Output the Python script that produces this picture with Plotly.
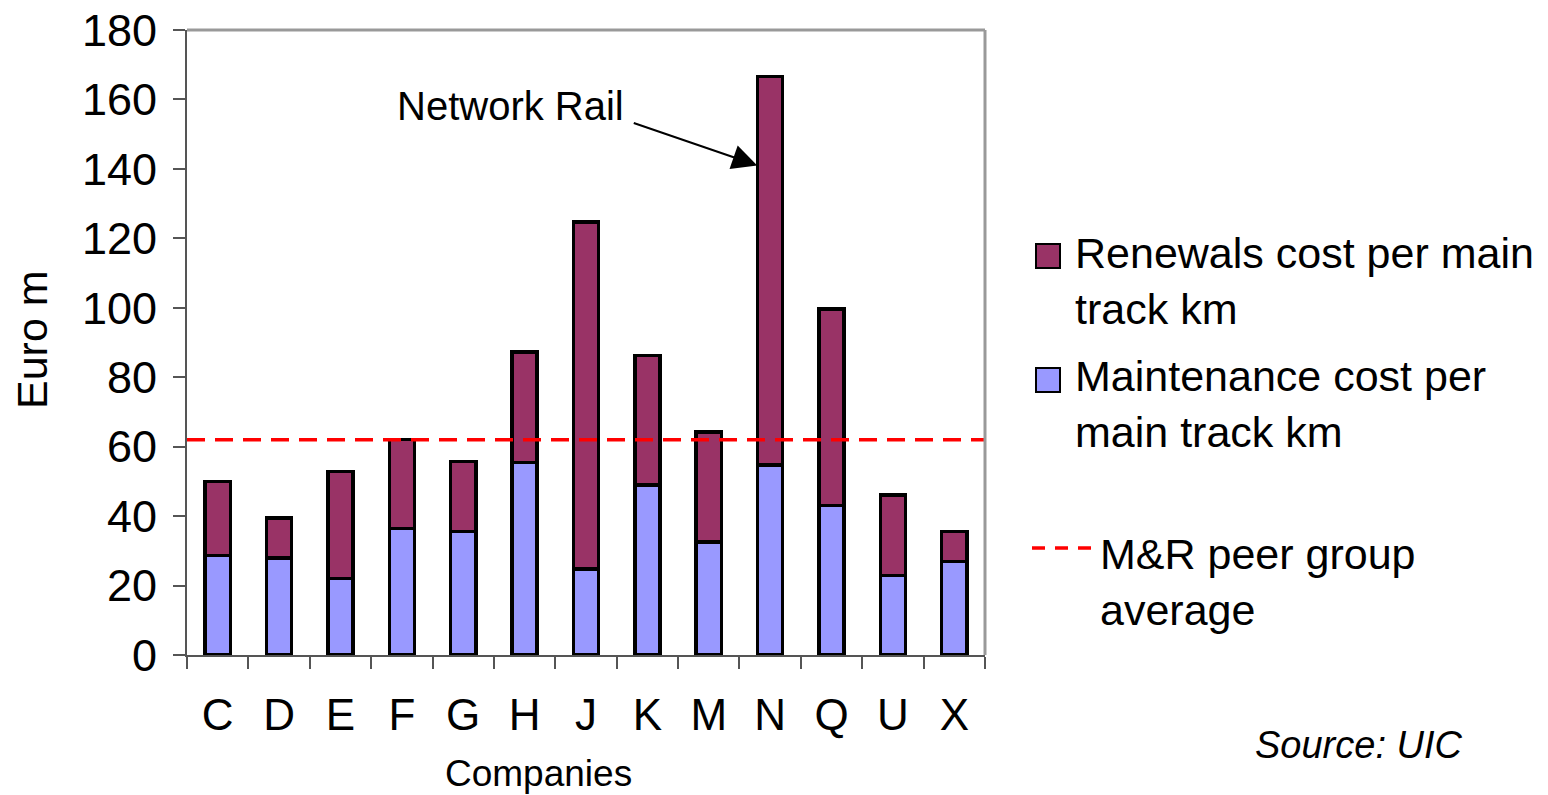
import plotly.graph_objects as go

companies = ["C", "D", "E", "F", "G", "H", "J", "K", "M", "N", "Q", "U", "X"]
maintenance = [28.7, 27.9, 22.0, 36.4, 35.5, 55.5, 24.8, 49.0, 32.6, 54.7, 43.1, 22.9, 26.9]
total = [49.9, 39.4, 52.8, 62.1, 55.7, 87.2, 124.7, 86.2, 64.2, 166.6, 99.7, 46.1, 35.5]
renewals = [round(t - m, 1) for t, m in zip(total, maintenance)]
peer_average = 62.0

FONT = "Arial, Liberation Sans, sans-serif"
REN_COLOR = "#993366"
MAINT_COLOR = "#9999FF"

fig = go.Figure()
fig.add_trace(go.Bar(x=companies, y=maintenance, name="Maintenance cost per main track km",
                     marker=dict(color=MAINT_COLOR, line=dict(color="black", width=3.5))))
fig.add_trace(go.Bar(x=companies, y=renewals, name="Renewals cost per main track km",
                     marker=dict(color=REN_COLOR, line=dict(color="black", width=3.5))))

W, H = 1548, 795
L, R, T, B = 187, 985, 30, 655  # plot area in page pixels


def px(x):
    return (x - L) / (R - L)


def py(y):
    return (B - y) / (B - T)


annotations = [
    dict(xref="paper", yref="paper", x=px(1073), y=py(281), xanchor="left", yanchor="middle",
         align="left", showarrow=False, text="Renewals cost per main<br>track km",
         font=dict(size=43, family=FONT, color="black")),
    dict(xref="paper", yref="paper", x=px(1073), y=py(404), xanchor="left", yanchor="middle",
         align="left", showarrow=False, text="Maintenance cost per<br>main track km",
         font=dict(size=43, family=FONT, color="black")),
    dict(xref="paper", yref="paper", x=px(1098), y=py(582), xanchor="left", yanchor="middle",
         align="left", showarrow=False, text="M&R peer group<br>average",
         font=dict(size=43, family=FONT, color="black")),
    dict(xref="paper", yref="paper", x=px(1465), y=py(745), xanchor="right", yanchor="middle",
         showarrow=False, text="<i>Source: UIC</i>",
         font=dict(size=38, family=FONT, color="black")),
    dict(xref="paper", yref="paper", x=px(538), y=py(774), xanchor="center", yanchor="middle",
         showarrow=False, text="Companies", font=dict(size=37, family=FONT, color="black")),
    dict(xref="paper", yref="paper", x=px(32), y=py(340), xanchor="center", yanchor="middle",
         showarrow=False, text="Euro m", textangle=-90, font=dict(size=43, family=FONT, color="black")),
    dict(xref="paper", yref="paper", x=px(510), y=py(106), xanchor="center", yanchor="middle",
         showarrow=False, text="Network Rail", font=dict(size=40, family=FONT, color="black")),
    dict(xref="x", yref="y", x=8.79, y=141, ax=-125, ay=-43, text="", showarrow=True,
         arrowhead=2, arrowsize=2.5, arrowwidth=2, arrowcolor="black"),
]

fig.update_layout(
    width=W, height=H,
    margin=dict(l=L, r=W - R, t=T, b=H - B, pad=0),
    barmode="stack", bargap=0.59,
    paper_bgcolor="white", plot_bgcolor="white",
    showlegend=False,
    font=dict(family=FONT, color="black"),
    annotations=annotations,
)
fig.update_xaxes(type="category", range=[-0.5, len(companies) - 0.5], automargin=False,
                 showline=True, linecolor="#555555", linewidth=2, mirror=False,
                 ticks="outside", tickson="boundaries", ticklen=12, tickcolor="#555555", tickwidth=2,
                 tickfont=dict(size=44, family=FONT, color="black"), ticklabelstandoff=20,
                 showgrid=False, zeroline=False)
fig.update_yaxes(range=[0, 180], dtick=20, automargin=False,
                 showline=True, linecolor="#555555", linewidth=2,
                 ticks="outside", ticklen=12, tickcolor="#555555", tickwidth=2,
                 tickfont=dict(size=45, family=FONT, color="black"), ticklabelstandoff=7,
                 ticklabeloverflow="allow",
                 showgrid=False, zeroline=False)

# peer group average line (data y, spans plot width)
fig.add_hline(y=peer_average, line=dict(color="#FF0000", width=3.5, dash="18px,10px"), layer="above")

# gray frame top & right
fig.add_shape(type="line", xref="paper", yref="paper", x0=0, x1=1, y0=1, y1=1,
              line=dict(color="#999999", width=3))
fig.add_shape(type="line", xref="paper", yref="paper", x0=1, x1=1, y0=0, y1=1,
              line=dict(color="#999999", width=3))

# manual legend
fig.add_shape(type="rect", xref="paper", yref="paper", x0=px(1036), x1=px(1060), y0=py(268), y1=py(244),
              fillcolor=REN_COLOR, line=dict(color="black", width=2))
fig.add_shape(type="rect", xref="paper", yref="paper", x0=px(1036), x1=px(1060), y0=py(392), y1=py(368),
              fillcolor=MAINT_COLOR, line=dict(color="black", width=2))
fig.add_shape(type="line", xref="paper", yref="paper", x0=px(1032), x1=px(1094), y0=py(548), y1=py(548),
              line=dict(color="#FF0000", width=3.5, dash="13px,10px"))

fig.write_html("out.html", config={"displayModeBar": False},
               post_script="document.body.style.margin='0px';document.body.style.overflow='hidden';")
